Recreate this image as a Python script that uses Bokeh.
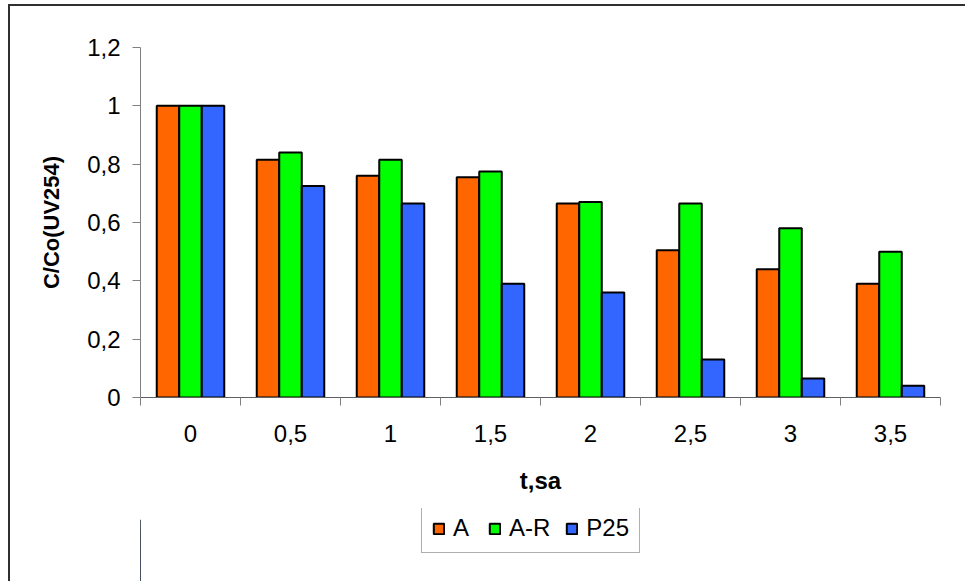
from bokeh.plotting import figure
from bokeh.layouts import column
from bokeh.models import (Range1d, FixedTicker, Legend, LegendItem, ColumnDataSource,
                          BoxAnnotation)
from bokeh.transform import dodge
from bokeh.embed import file_html
from bokeh.resources import INLINE

# Irradiation time (hours) and relative UV254 absorbance C/Co for each catalyst
times = ["0", "0,5", "1", "1,5", "2", "2,5", "3", "3,5"]
series_names = ["A", "A-R", "P25"]
a_vals = [1.0, 0.815, 0.76, 0.755, 0.665, 0.505, 0.44, 0.39]
ar_vals = [1.0, 0.84, 0.815, 0.775, 0.67, 0.665, 0.58, 0.50]
p25_vals = [1.0, 0.725, 0.665, 0.39, 0.36, 0.13, 0.065, 0.04]
y_ticks = [0, 0.2, 0.4, 0.6, 0.8, 1.0, 1.2]
y_tick_labels = ["0", "0,2", "0,4", "0,6", "0,8", "1", "1,2"]

colors = ["#FF6600", "#00FF00", "#3366FF"]
FONT = "Liberation Sans"
FS = "24px"

n = len(times)
centers = [i + 0.5 for i in range(n)]
source = ColumnDataSource(dict(center=centers, A=a_vals, AR=ar_vals, P25=p25_vals))

bar_w = 0.225
offsets = [-bar_w, 0.0, bar_w]
fields = ["A", "AR", "P25"]


def add_bars(fig):
    rs = []
    for f, off, c in zip(fields, offsets, colors):
        rs.append(fig.vbar(x=dodge("center", off), top=f, width=bar_w, bottom=0,
                           source=source, fill_color=c, line_color="black",
                           line_width=2))
    return rs


# main chart
p = figure(width=955, height=502, output_backend="svg", toolbar_location=None,
           x_range=Range1d(0, n), y_range=Range1d(0, 1.2),
           min_border_left=130, min_border_right=25, min_border_top=41,
           min_border_bottom=111)
p.outline_line_color = None
p.xgrid.visible = False
p.ygrid.visible = False
add_bars(p)

# x axis: labels at the category centres, ticks at the category boundaries
xa = p.xaxis[0]
xa.ticker = FixedTicker(ticks=centers, minor_ticks=list(range(n + 1)))
xa.major_label_overrides = {c: t for c, t in zip(centers, times)}
xa.major_tick_out = 0
xa.major_tick_in = 0
xa.minor_tick_out = 8
xa.minor_tick_in = 0
xa.minor_tick_line_color = "#808080"
xa.axis_line_color = "#606060"
xa.major_label_text_font = FONT
xa.major_label_text_font_size = FS
xa.major_label_text_color = "black"
xa.major_label_standoff = 19
xa.axis_label = "t,sa"
xa.axis_label_text_font = FONT
xa.axis_label_text_font_style = "bold"
xa.axis_label_text_font_size = FS
xa.axis_label_text_color = "black"
xa.axis_label_standoff = 22

ya = p.yaxis[0]
ya.ticker = FixedTicker(ticks=y_ticks, minor_ticks=[])
ya.major_label_overrides = {v: t for v, t in zip(y_ticks, y_tick_labels)}
ya.major_tick_out = 8
ya.major_tick_in = 0
ya.major_tick_line_color = "#808080"
ya.axis_line_color = "#808080"
ya.major_label_text_font = FONT
ya.major_label_text_font_size = FS
ya.major_label_text_color = "black"
ya.major_label_standoff = 12
ya.axis_label = "C/Co(UV254)"
ya.axis_label_text_font = FONT
ya.axis_label_text_font_style = "bold"
ya.axis_label_text_font_size = "22px"
ya.axis_label_text_color = "black"
ya.axis_label_standoff = 20

# legend strip underneath; its bar renderers lie outside the x range and are
# masked by a white panel, so they only supply the swatch styles
leg_fig = figure(width=955, height=73, output_backend="svg", toolbar_location=None,
                 x_range=Range1d(1000, 1000 + n), y_range=Range1d(0, 1.2),
                 x_axis_location=None, y_axis_location=None, min_border=0)
leg_fig.outline_line_color = None
leg_fig.xgrid.visible = False
leg_fig.ygrid.visible = False
leg_renderers = add_bars(leg_fig)
leg_fig.add_layout(BoxAnnotation(fill_color="white", fill_alpha=1.0,
                                 line_alpha=0.0, level="overlay"))

legend = Legend(items=[LegendItem(label=nm, renderers=[r])
                       for nm, r in zip(series_names, leg_renderers)],
                orientation="horizontal", location=(281, 28))
legend.label_text_font = FONT
legend.label_text_font_size = FS
legend.label_text_color = "black"
legend.glyph_width = 13
legend.glyph_height = 13
legend.label_standoff = 8
legend.spacing = 15
legend.padding = 10
legend.margin = 0
legend.border_line_color = "#606060"
legend.border_line_width = 1.5
legend.background_fill_alpha = 1
legend.level = "overlay"
leg_fig.add_layout(legend)

# chart area framed on its top and left edges
layout = column(p, leg_fig, spacing=0)
layout.styles = {"margin-left": "8px", "margin-top": "4px",
                 "border-left": "2px solid #303030", "border-top": "2px solid #303030"}

open("out.html", "w").write(file_html(layout, INLINE))
